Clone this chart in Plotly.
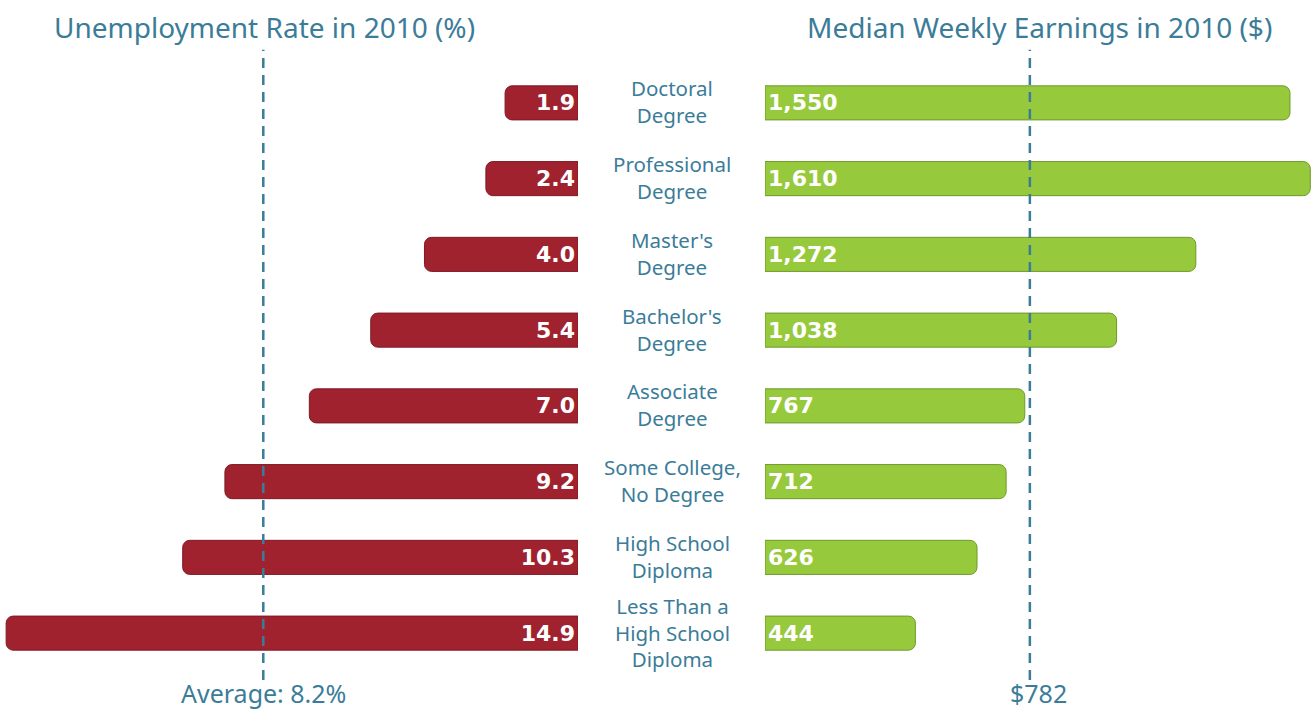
import plotly.graph_objects as go

categories = ["Doctoral<br>Degree", "Professional<br>Degree", "Master's<br>Degree",
              "Bachelor's<br>Degree", "Associate<br>Degree", "Some College,<br>No Degree",
              "High School<br>Diploma", "Less Than a<br>High School<br>Diploma"]
unemployment = [1.9, 2.4, 4.0, 5.4, 7.0, 9.2, 10.3, 14.9]
earnings = [1550, 1610, 1272, 1038, 767, 712, 626, 444]
avg_unemployment = 8.2
median_earnings = 782

TEAL = "#3B7C99"
RED = "#A0222F"
GREEN = "#97C93D"
FONT = "Noto Sans"
BARFONT = "DejaVu Sans"

ykeys = list(range(len(categories)))

fig = go.Figure()
fig.add_trace(go.Bar(
    x=unemployment, y=ykeys, orientation="h", xaxis="x", yaxis="y",
    marker=dict(color=RED, line=dict(color="#7E1A24", width=1)),
    width=0.45,
    text=[f"{v:.1f}" for v in unemployment], textposition="inside",
    insidetextanchor="start",
    textfont=dict(color="white", size=22, family=BARFONT, weight="bold"),
    hoverinfo="skip", showlegend=False,
))
fig.add_trace(go.Bar(
    x=earnings, y=ykeys, orientation="h", xaxis="x2", yaxis="y",
    marker=dict(color=GREEN, line=dict(color="#6E9A2A", width=1)),
    width=0.45,
    text=[f"{v:,}" for v in earnings], textposition="inside",
    insidetextanchor="start",
    textfont=dict(color="white", size=22, family=BARFONT, weight="bold"),
    hoverinfo="skip", showlegend=False,
))

W = 1312
fig.update_layout(
    width=1312, height=709,
    margin=dict(l=0, r=0, t=65, b=38),
    paper_bgcolor="white", plot_bgcolor="white",
    barcornerradius=7,
    font=dict(family=FONT, color=TEAL),
    xaxis=dict(domain=[0, 578 / W], range=[15.06, 0], visible=False, fixedrange=True),
    xaxis2=dict(domain=[765 / W, 1], range=[0, 1615], visible=False, fixedrange=True),
    yaxis=dict(range=[len(categories) - 0.5, -0.5], visible=False, fixedrange=True),
)

for i, c in enumerate(categories):
    fig.add_annotation(x=672 / W, xref="paper", y=i, yref="y", text=c, showarrow=False,
                       font=dict(size=20.5, color=TEAL, family=FONT), align="center",
                       xanchor="center", yanchor="middle", yshift=1)

# average lines
for xr, val in [("x", avg_unemployment), ("x2", median_earnings)]:
    fig.add_shape(type="line", xref=xr, yref="paper", x0=val, x1=val, y0=-0.015, y1=1.025,
                  line=dict(color=TEAL, width=2.5, dash="10px,7px"), layer="above")

fig.add_annotation(x=avg_unemployment, xref="x", y=-0.036, yref="paper",
                   text=f"Average: {avg_unemployment}%", showarrow=False,
                   font=dict(size=25, color=TEAL, family=FONT), xanchor="center", yanchor="middle")
fig.add_annotation(x=1038 / W, xref="paper", y=-0.036, yref="paper",
                   text=f"${median_earnings}", showarrow=False,
                   font=dict(size=25, color=TEAL, family=FONT), xanchor="center", yanchor="middle")

# titles
fig.add_annotation(x=264 / W, xref="paper", y=1.063, yref="paper",
                   text="Unemployment Rate in 2010 (%)", showarrow=False,
                   font=dict(size=28, color=TEAL, family=FONT), xanchor="center", yanchor="middle")
fig.add_annotation(x=1039 / W, xref="paper", y=1.063, yref="paper",
                   text="Median Weekly Earnings in 2010 ($)", showarrow=False,
                   font=dict(size=28, color=TEAL, family=FONT), xanchor="center", yanchor="middle")

fig.write_html("out.html")
